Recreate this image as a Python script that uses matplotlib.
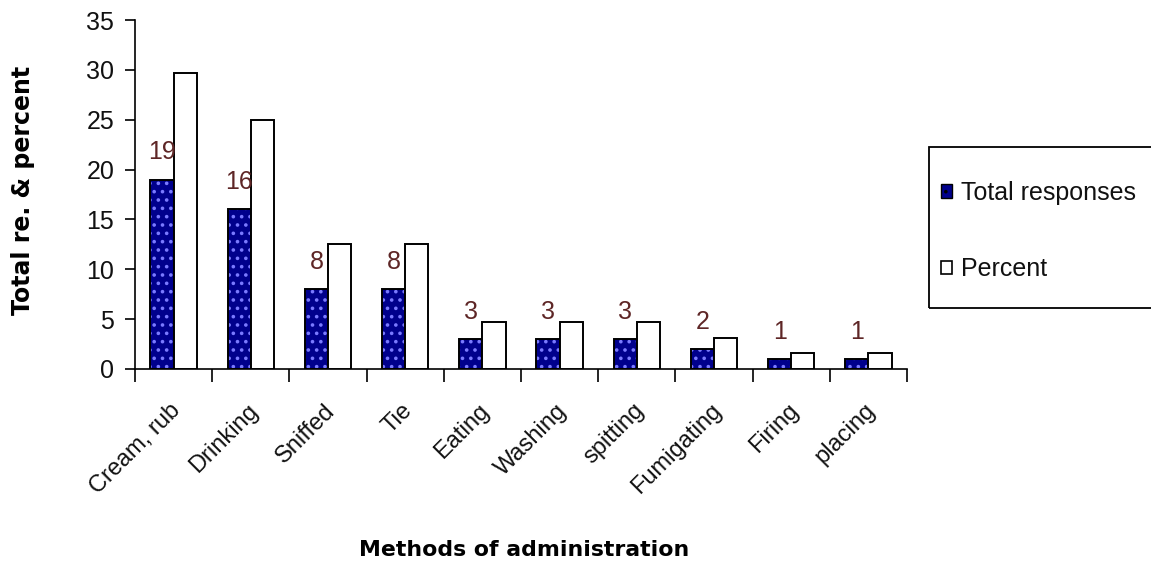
import matplotlib
matplotlib.use("Agg")
import matplotlib.pyplot as plt
import matplotlib.transforms as mtransforms
import numpy as np
from matplotlib.patches import Patch, Rectangle

categories = ["Cream, rub", "Drinking", "Sniffed", "Tie", "Eating", "Washing",
              "spitting", "Fumigating", "Firing", "placing"]
total_responses = [19, 16, 8, 8, 3, 3, 3, 2, 1, 1]
percent = [29.7, 25.0, 12.5, 12.5, 4.7, 4.7, 4.7, 3.1, 1.6, 1.6]
y_ticks = [0, 5, 10, 15, 20, 25, 30, 35]

plt.rcParams['font.family'] = ['Liberation Sans', 'DejaVu Sans']
plt.rcParams['hatch.linewidth'] = 1.4

W, H = 1151, 565
fig = plt.figure(figsize=(W / 100, H / 100), dpi=100)
ax = fig.add_axes([135 / W, 1 - 369 / H, (907 - 135) / W, (369 - 20) / H])

x = np.arange(len(categories))
w = 0.3
navy = '#00008c'
text_col = '#111111'

# Dotted navy bars: hatched fill first, then black outline on top
ax.bar(x - w / 2, total_responses, w, color=navy, edgecolor='#7a7aff',
       hatch='..', linewidth=0, zorder=2)
ax.bar(x - w / 2, total_responses, w, fill=False, edgecolor='black',
       linewidth=1.4, zorder=3)
ax.bar(x + w / 2, percent, w, color='white', edgecolor='black',
       linewidth=1.4, zorder=3)

for xi, v in zip(x, total_responses):
    ax.annotate(str(v), (xi - w / 2, v), xytext=(0, 11),
                textcoords='offset points', ha='center', va='bottom',
                fontsize=18, color='#5e2626')

ax.set_xlim(-0.5, len(categories) - 0.5)
ax.set_ylim(0, 35)
ax.set_yticks(y_ticks)
ax.set_yticklabels([str(t) for t in y_ticks], fontsize=18, color=text_col)
ax.tick_params(axis='y', length=7, width=1.2, pad=8)

# Category ticks sit on the boundaries between groups
ax.set_xticks(np.arange(len(categories) + 1) - 0.5)
ax.set_xticklabels([])
ax.tick_params(axis='x', length=9, width=1.2)
ax.set_xticks(x, minor=True)
ax.set_xticklabels(categories, minor=True, rotation=45, ha='right',
                   rotation_mode='anchor', fontsize=17, color=text_col)
ax.tick_params(axis='x', which='minor', length=0, pad=22)
shift = mtransforms.ScaledTranslation(-4 / 100, 0, fig.dpi_scale_trans)
for lbl in ax.get_xticklabels(minor=True):
    lbl.set_transform(lbl.get_transform() + shift)

for s in ['top', 'right']:
    ax.spines[s].set_visible(False)
ax.spines['left'].set_linewidth(1.2)
ax.spines['bottom'].set_linewidth(1.2)

fig.text(23 / W, 1 - 190 / H, "Total re. & percent", fontsize=17,
         fontweight='bold', family='DejaVu Sans', rotation=90,
         ha='center', va='center')
fig.text(524 / W, 1 - 550 / H, "Methods of administration", fontsize=15.8,
         fontweight='bold', family='DejaVu Sans', ha='center', va='center')

# Legend frame, extending past the right edge
fig.patches.append(Rectangle((929 / W, 1 - 308 / H), 240 / W, 161 / H,
                             transform=fig.transFigure, fill=False,
                             edgecolor='black', linewidth=1.3))
handles = [Patch(facecolor=navy, edgecolor='black', hatch='..', linewidth=1),
           Patch(facecolor='white', edgecolor='black', linewidth=1.2)]
fig.legend(handles, ["Total responses", "Percent"],
           loc='center left', bbox_to_anchor=(941 / W, 1 - 231 / H),
           fontsize=18, frameon=False, labelspacing=2.1,
           handlelength=0.45, handleheight=0.45, handletextpad=0.35,
           borderpad=0, borderaxespad=0, labelcolor=text_col)

fig.savefig("out.png", dpi=100)
